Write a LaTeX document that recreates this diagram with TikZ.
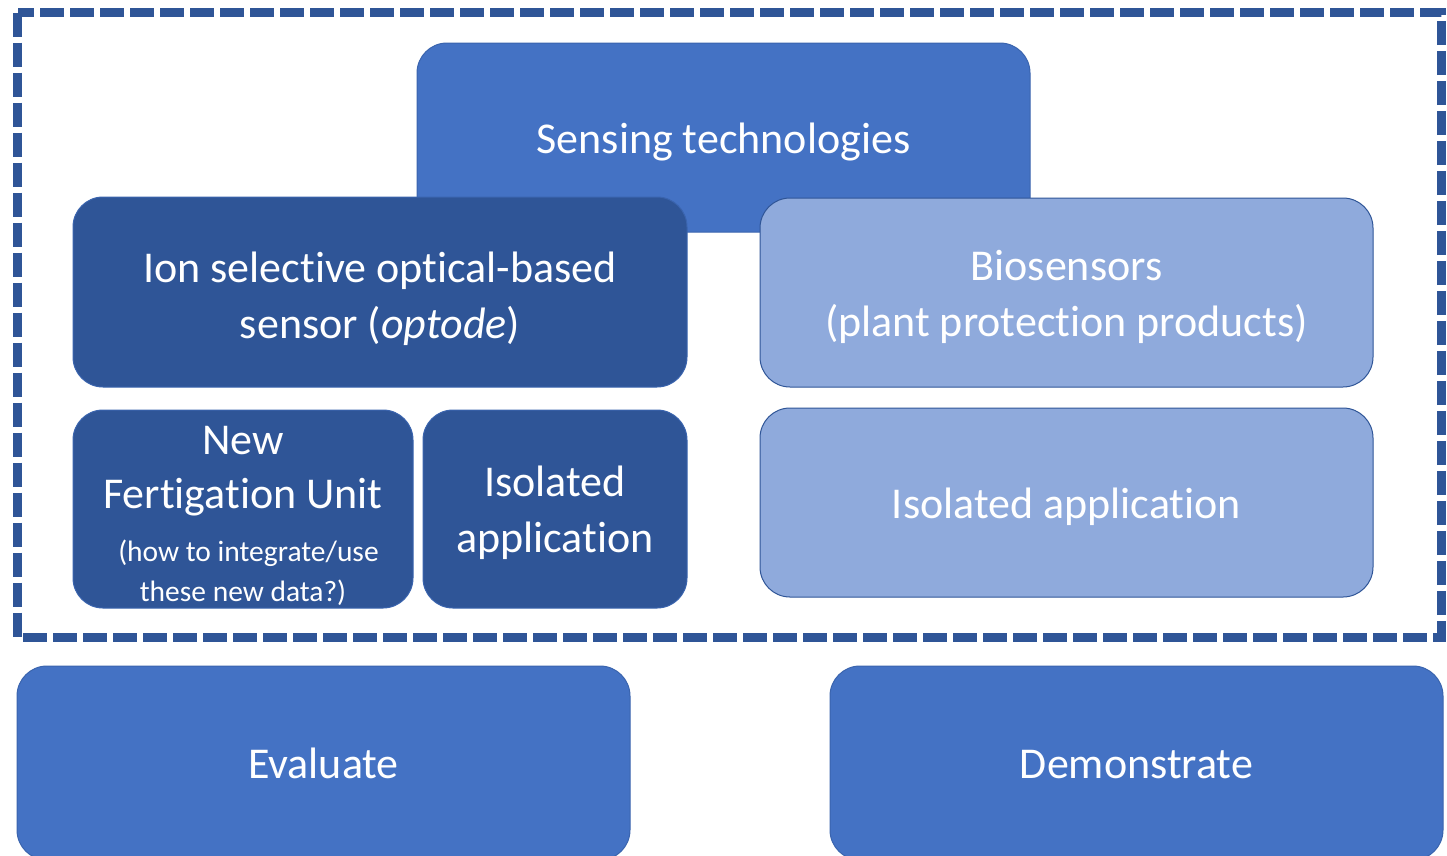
\documentclass[tikz,border=0pt]{standalone}
\usepackage{fontspec}
\setmainfont[Ligatures=NoCommon]{Carlito}
\definecolor{medblue}{HTML}{4472C4}
\definecolor{darkblue}{HTML}{2F5597}
\definecolor{lightblue}{HTML}{8FAADC}
\definecolor{edgeblue}{HTML}{3A64AE}
\newcommand\boxstrut{\rule[-12pt]{0pt}{55pt}}
\newcommand\highstrut{\rule[-12pt]{0pt}{60pt}}
\newcommand\smalltext{\fontsize{29.5}{40}\selectfont}
\begin{document}
\begin{tikzpicture}[x=1pt,y=-1pt,
  box/.style={rectangle, rounded corners=30pt, inner sep=0pt, text=white, align=center,
    line width=1pt, font=\fontsize{44}{54}\selectfont},
  medbox/.style={box, fill=medblue, draw=edgeblue},
  darkbox/.style={box, fill=darkblue, draw=edgeblue},
  lightbox/.style={box, fill=lightblue, draw=darkblue},
  frame/.style={draw=darkblue, line width=9pt, dash pattern=on 24pt off 6pt}]
\useasboundingbox (0,0) rectangle (1447,855);
\clip (0,0) rectangle (1447,855);
% dashed frame
\coordinate (f1) at (17.5,12.5);
\coordinate (f2) at (1441,637);
\draw[frame] (f1) rectangle (f2);
% boxes
\node[medbox, minimum width=613pt, minimum height=189pt] (sensing) at (723.5,137.5) {\boxstrut Sensing technologies\boxstrut};
\node[darkbox, minimum width=614pt, minimum height=190pt] (optode) at (380,292) {\highstrut Ion selective optical-based\\sensor (\textit{optode})\boxstrut};
\node[lightbox, minimum width=613pt, minimum height=189pt] (bio) at (1066.5,292.5) {\boxstrut Biosensors\\(plant protection products)\boxstrut};
\node[darkbox, minimum width=340pt, minimum height=198pt] (fert) at (243,509) {\boxstrut New\\Fertigation Unit\\[-1pt]{\smalltext\hspace*{11pt}(how to integrate/use}\\[-14pt]{\smalltext these new data?)\rule[-6pt]{0pt}{6pt}}};
\node[darkbox, minimum width=264pt, minimum height=198pt] (isodark) at (555,509) {\boxstrut Isolated\\application\boxstrut};
\node[lightbox, minimum width=613pt, minimum height=189pt] (isolight) at (1066.5,502.5) {\boxstrut Isolated application\boxstrut};
\node[medbox, minimum width=613pt, minimum height=194pt] (eval) at (323.5,763) {\boxstrut Evaluate\boxstrut};
\node[medbox, minimum width=613pt, minimum height=194pt] (demo) at (1136.5,763) {\boxstrut Demonstrate\boxstrut};
\end{tikzpicture}
\end{document}
